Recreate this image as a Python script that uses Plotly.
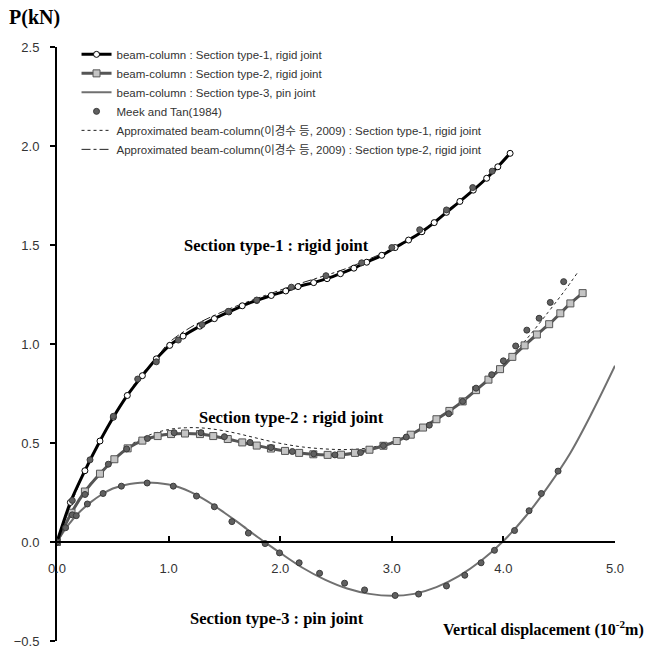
import plotly.graph_objects as go

# Load-displacement results (displacement in 10^-2 m, load in kN)
type1_x = [0, 0.12, 0.25, 0.385, 0.505, 0.63, 0.765, 0.89, 1.01, 1.13, 1.28, 1.41, 1.54,
           1.66, 1.79, 1.92, 2.05, 2.16, 2.30, 2.42, 2.54, 2.66, 2.775, 2.91, 3.03, 3.15,
           3.27, 3.38, 3.49, 3.61, 3.73, 3.85, 3.95, 4.06]
type1_y = [0, 0.20, 0.36, 0.51, 0.63, 0.74, 0.84, 0.925, 0.993, 1.04, 1.09, 1.128, 1.162,
           1.193, 1.22, 1.245, 1.268, 1.29, 1.31, 1.33, 1.355, 1.383, 1.413, 1.448, 1.487,
           1.525, 1.567, 1.613, 1.665, 1.72, 1.777, 1.837, 1.895, 1.963]

type2_x = [0, 0.13, 0.25, 0.385, 0.514, 0.633, 0.765, 0.902, 1.022, 1.147, 1.281, 1.40,
           1.53, 1.66, 1.79, 1.917, 2.043, 2.17, 2.297, 2.425, 2.545, 2.67, 2.80, 2.925,
           3.044, 3.17, 3.28, 3.40, 3.516, 3.635, 3.755, 3.866, 3.97, 4.08, 4.19, 4.30,
           4.41, 4.51, 4.60, 4.71]
type2_y = [0, 0.148, 0.255, 0.345, 0.418, 0.473, 0.512, 0.535, 0.545, 0.548, 0.545, 0.535,
           0.52, 0.503, 0.487, 0.472, 0.46, 0.45, 0.443, 0.44, 0.441, 0.45, 0.466, 0.486,
           0.51, 0.542, 0.578, 0.62, 0.662, 0.71, 0.767, 0.82, 0.873, 0.935, 0.993, 1.048,
           1.10, 1.155, 1.205, 1.257]

type3_x = [0, 0.1, 0.2, 0.3, 0.4, 0.5, 0.6, 0.7, 0.8, 0.9, 1.0, 1.1, 1.2, 1.3, 1.4, 1.5,
           1.6, 1.7, 1.8, 1.9, 2.0, 2.2, 2.4, 2.6, 2.8, 3.0, 3.2, 3.4, 3.6, 3.8, 4.0, 4.2,
           4.4, 4.6, 4.8, 5.0]
type3_y = [0, 0.085, 0.15, 0.2, 0.24, 0.27, 0.287, 0.297, 0.30, 0.298, 0.29, 0.275, 0.252,
           0.222, 0.187, 0.148, 0.108, 0.066, 0.024, -0.016, -0.055, -0.13, -0.19, -0.235,
           -0.262, -0.272, -0.262, -0.228, -0.172, -0.095, 0.005, 0.13, 0.28, 0.45, 0.66,
           0.89]

# Meek and Tan (1984) reference results
meek1_x = [0, 0.137, 0.296, 0.505, 0.723, 0.89, 1.087, 1.30, 1.535, 1.79, 2.10, 2.41,
           2.73, 3.0, 3.25, 3.49, 3.725, 3.90]
meek1_y = [0, 0.21, 0.415, 0.635, 0.823, 0.91, 1.02, 1.098, 1.165, 1.222, 1.287, 1.345,
           1.41, 1.487, 1.577, 1.677, 1.79, 1.873]
meek2_x = [0, 0.137, 0.251, 0.46, 0.624, 0.81, 1.05, 1.29, 1.50, 1.73, 1.917, 2.109,
           2.30, 2.49, 2.72, 2.925, 3.13, 3.336, 3.51, 3.635, 3.755, 3.895, 4.0, 4.11,
           4.21, 4.32, 4.42, 4.54]
meek2_y = [0, 0.137, 0.24, 0.393, 0.47, 0.523, 0.552, 0.552, 0.532, 0.503, 0.477, 0.457,
           0.445, 0.44, 0.452, 0.487, 0.53, 0.59, 0.648, 0.71, 0.777, 0.845, 0.915, 0.99,
           1.07, 1.13, 1.21, 1.315]
meek3_x = [0.077, 0.173, 0.272, 0.413, 0.577, 0.808, 1.042, 1.25, 1.41, 1.567, 1.715,
           1.865, 1.994, 2.17, 2.353, 2.577, 2.756, 3.03, 3.24, 3.49, 3.654, 3.80, 3.92,
           4.10, 4.23, 4.34, 4.49]
meek3_y = [0.072, 0.133, 0.192, 0.245, 0.282, 0.298, 0.282, 0.232, 0.178, 0.103, 0.045,
           -0.008, -0.055, -0.105, -0.158, -0.208, -0.242, -0.27, -0.263, -0.222, -0.168,
           -0.105, -0.042, 0.058, 0.158, 0.245, 0.358]

# Approximated beam-column results
approx_dot_x = [0, 0.13, 0.25, 0.4, 0.55, 0.7, 0.85, 1.0, 1.15, 1.3, 1.45, 1.6, 1.75, 1.9,
                2.05, 2.2, 2.4, 2.6, 2.8, 3.0, 3.2, 3.4, 3.6, 3.8, 4.0, 4.2, 4.4, 4.55, 4.66]
approx_dot_y = [0, 0.15, 0.26, 0.36, 0.44, 0.505, 0.545, 0.568, 0.577, 0.576, 0.566, 0.55,
                0.53, 0.51, 0.493, 0.48, 0.47, 0.467, 0.476, 0.505, 0.55, 0.615, 0.695,
                0.79, 0.9, 1.02, 1.16, 1.27, 1.357]
approx_dashdot_x = [0, 0.25, 0.5, 0.75, 0.9, 1.0, 1.2, 1.4, 1.6, 1.8, 2.0, 2.2, 2.4, 2.6,
                    2.8, 3.0, 3.2, 3.4, 3.6, 3.8, 4.0, 4.08]
approx_dashdot_y = [0, 0.36, 0.63, 0.84, 0.935, 1.005, 1.085, 1.142, 1.19, 1.232, 1.272,
                    1.31, 1.345, 1.383, 1.43, 1.48, 1.543, 1.625, 1.715, 1.81, 1.93, 1.975]

x_ticks = [0, 1, 2, 3, 4, 5]
y_ticks = [-0.5, 0, 0.5, 1.0, 1.5, 2.0, 2.5]

curve_labels = [
    ("Section type-1 : rigid joint", 1.97, 1.50),
    ("Section type-2 : rigid joint", 2.10, 0.627),
    ("Section type-3 : pin joint", 1.97, -0.385),
]

LEG_FONT = "Liberation Sans, Noto Sans CJK KR, sans-serif"
SERIF = "Liberation Serif, DejaVu Serif, serif"

fig = go.Figure()

fig.add_trace(go.Scatter(
    x=approx_dot_x, y=approx_dot_y, mode="lines", line_shape="spline",
    line=dict(color="#222222", width=1, dash="dot"),
    name="Approximated beam-column(이경수 등, 2009) : Section type-1, rigid joint",
    legendrank=5))
fig.add_trace(go.Scatter(
    x=approx_dashdot_x, y=approx_dashdot_y, mode="lines", line_shape="spline",
    line=dict(color="#222222", width=1, dash="dashdot"),
    name="Approximated beam-column(이경수 등, 2009) : Section type-2, rigid joint",
    legendrank=6))
fig.add_trace(go.Scatter(
    x=type3_x, y=type3_y, mode="lines", line_shape="spline",
    line=dict(color="#707070", width=2),
    name="beam-column : Section type-3, pin joint", legendrank=3))
fig.add_trace(go.Scatter(
    x=type2_x, y=type2_y, mode="lines+markers", line_shape="spline",
    line=dict(color="#555555", width=3, smoothing=0.8),
    marker=dict(symbol="square", size=7, color="#c4c4c4",
                line=dict(color="#555555", width=1)),
    name="beam-column : Section type-2, rigid joint", legendrank=2))
fig.add_trace(go.Scatter(
    x=type1_x, y=type1_y, mode="lines+markers", line_shape="spline",
    line=dict(color="#000000", width=3, smoothing=0.8),
    marker=dict(symbol="circle", size=6, color="#ffffff",
                line=dict(color="#000000", width=1)),
    name="beam-column : Section type-1, rigid joint", legendrank=1))

meek_x = meek1_x + [None] + meek2_x + [None] + meek3_x
meek_y = meek1_y + [None] + meek2_y + [None] + meek3_y
fig.add_trace(go.Scatter(
    x=meek_x, y=meek_y, mode="markers",
    marker=dict(symbol="circle", size=6, color="#606060",
                line=dict(color="#3a3a3a", width=1)),
    name="Meek and Tan(1984)", legendrank=4))

for text, lx, ly in curve_labels:
    fig.add_annotation(x=lx, y=ly, text=f"<b>{text}</b>", showarrow=False,
                       font=dict(family=SERIF, size=16.5, color="#000000"))

fig.add_annotation(x=0, y=1.0, xref="paper", yref="paper", xanchor="left",
                   yanchor="bottom", yshift=16, xshift=-50,
                   text="<b>P(kN)</b>", showarrow=False,
                   font=dict(family=SERIF, size=20, color="#000000"))
fig.add_annotation(x=1.0, y=0.0, xref="paper", yref="y", xanchor="right",
                   yanchor="middle", yshift=-86, xshift=31,
                   text="<b>Vertical displacement (10<sup>-2</sup>m)</b>",
                   showarrow=False,
                   font=dict(family=SERIF, size=16, color="#000000"))

fig.update_layout(
    width=660, height=659,
    margin=dict(l=57, r=45, t=47, b=10),
    paper_bgcolor="white", plot_bgcolor="white",
    showlegend=True,
    legend=dict(x=0.035, y=1.012, xanchor="left", yanchor="top",
                bgcolor="rgba(0,0,0,0)", borderwidth=0, tracegroupgap=0,
                font=dict(family=LEG_FONT, size=11.5, color="#333333")),
    xaxis=dict(range=[0, 5], tickvals=x_ticks, tickformat=".1f",
               anchor="free", position=(0 - y_ticks[0]) / (y_ticks[-1] - y_ticks[0]),
               showline=True, linecolor="#000000", linewidth=2,
               ticks="inside", ticklen=5, tickwidth=2, tickcolor="#000000",
               showgrid=False, zeroline=False, ticklabelstandoff=14,
               tickfont=dict(family="Liberation Sans, sans-serif", size=13,
                             color="#333333")),
    yaxis=dict(range=[y_ticks[0], y_ticks[-1]], tickvals=y_ticks, tickformat=".1f",
               showline=True, linecolor="#000000", linewidth=2,
               ticks="outside", ticklen=5, tickwidth=2, tickcolor="#000000",
               showgrid=False, zeroline=False, ticklabelstandoff=8,
               tickfont=dict(family="Liberation Sans, sans-serif", size=13,
                             color="#333333")),
)

fig.write_html("out.html")
